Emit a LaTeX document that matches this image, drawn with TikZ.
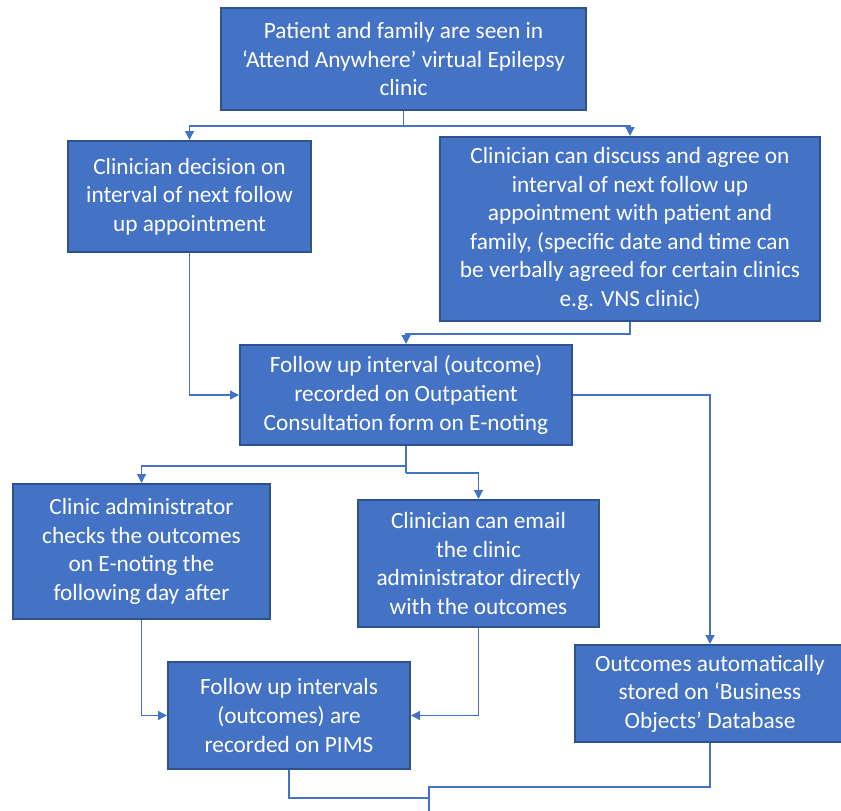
\documentclass[tikz,border=0pt]{standalone}
\usepackage{fontspec}
\setmainfont{Carlito}
\usetikzlibrary{arrows.meta}
\definecolor{boxfill}{HTML}{4472C4}
\definecolor{boxline}{HTML}{2F528F}
\definecolor{connc}{HTML}{4472C4}
\tikzset{
  flowbox/.style={draw=boxline, fill=boxfill, line width=2pt, text=white, align=center,
    inner sep=0pt, font=\fontsize{23.3}{28.6}\selectfont},
  conn/.style={draw=connc, line width=1.3pt},
  arr/.style={conn, -{Triangle[length=9pt,width=9pt]}}
}
\begin{document}
\begin{tikzpicture}[x=1pt,y=-1pt]
\useasboundingbox (0,0) rectangle (841,811);
\node[flowbox, minimum width=365pt, minimum height=102pt] (a) at (403.5,59)
  {Patient and family are seen in\\‘Attend Anywhere’ virtual Epilepsy\\clinic};
\node[flowbox, minimum width=243pt, minimum height=111pt] (b) at (189.5,196.5)
  {Clinician decision on\\interval of next follow\\up appointment};
\node[flowbox, minimum width=380pt, minimum height=184pt] (c) at (630,229)
  {Clinician can discuss and agree on\\interval of next follow up\\appointment with patient and\\family, (specific date and time can\\be verbally agreed for certain clinics\\e.g. VNS clinic)};
\node[flowbox, minimum width=332pt, minimum height=100pt] (d) at (406,395)
  {Follow up interval (outcome)\\recorded on Outpatient\\Consultation form on E-noting};
\node[flowbox, minimum width=257pt, minimum height=135pt] (e) at (141.5,551.5)
  {Clinic administrator\\checks the outcomes\\on E-noting the\\following day after};
\node[flowbox, minimum width=241pt, minimum height=127pt] (f) at (478.5,563.5)
  {Clinician can email\\the clinic\\administrator directly\\with the outcomes};
\node[flowbox, minimum width=242pt, minimum height=107pt] (g) at (289,715.5)
  {Follow up intervals\\(outcomes) are\\recorded on PIMS};
\node[flowbox, minimum width=270pt, minimum height=97pt] (h) at (710,693.5)
  {Outcomes automatically\\stored on ‘Business\\Objects’ Database};
\coordinate (s1) at (403.5,126);
\coordinate (s2) at (406,334);
\coordinate (s3) at (406,466);
\coordinate (s4) at (406,473);
\coordinate (j1) at (429,798);
\coordinate (j2) at (429,787);
\coordinate (end) at (429,811);
\draw[conn] (a.south) -- (s1);
\draw[arr] (s1) -| (b.north);
\draw[arr] (s1) -| (c.north);
\draw[arr] (c.south) |- (s2) -- (d.north);
\draw[arr] (b.south) |- (d.west);
\draw[arr] (d.east) -| (h.north);
\draw[conn] (d.south) -- (s4);
\draw[arr] (s3) -| (e.north);
\draw[arr] (s4) -| (f.north);
\draw[arr] (e.south) |- (g.west);
\draw[arr] (f.south) |- (g.east);
\draw[conn] (g.south) |- (j1) -- (end);
\draw[conn] (h.south) |- (j2) -- (end);
\end{tikzpicture}
\end{document}
